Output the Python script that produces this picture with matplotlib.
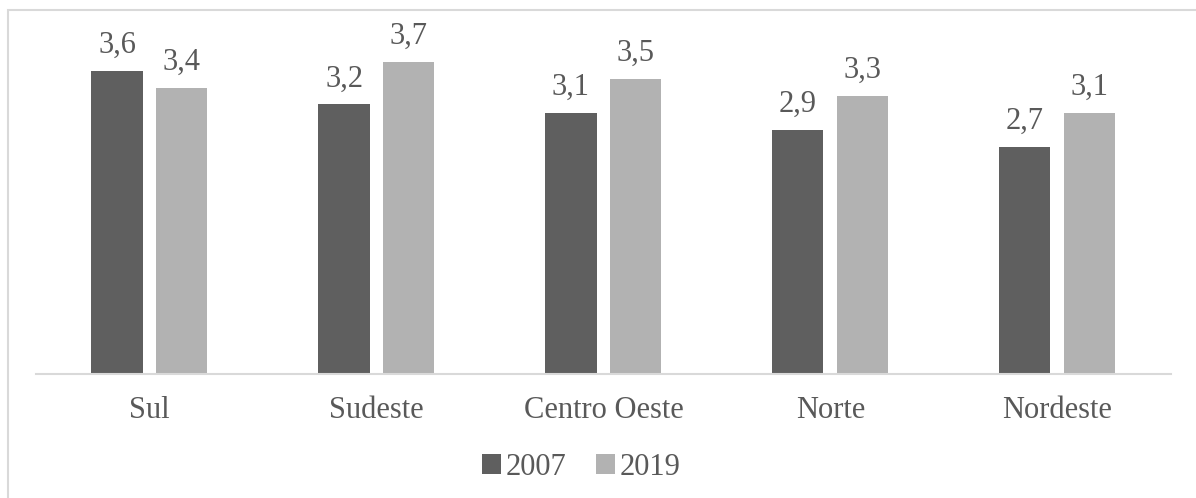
import numpy as np
import matplotlib.pyplot as plt
from matplotlib.patches import Rectangle

regions = ["Sul", "Sudeste", "Centro Oeste", "Norte", "Nordeste"]
vals_2007 = [3.6, 3.2, 3.1, 2.9, 2.7]
vals_2019 = [3.4, 3.7, 3.5, 3.3, 3.1]
series_names = ["2007", "2019"]

plt.rcParams['font.family'] = ['Liberation Serif', 'DejaVu Serif']
text_color = "#595959"

fig = plt.figure(figsize=(11.96, 4.98), dpi=100)
ax = fig.add_axes([0.0301, 0.249, 0.9489, 0.6767])

# light gray chart frame (only left and top edges fall inside the image)
fig.patches.append(Rectangle((8 / 1196, -0.1), 1.1, 488 / 498 + 0.1, transform=fig.transFigure,
                             fill=False, edgecolor="#d9d9d9", linewidth=1.5))

x = np.arange(len(regions))
w = 0.225
off = 0.143
b1 = ax.bar(x - off, vals_2007, w, color="#5f5f5f", label=series_names[0])
b2 = ax.bar(x + off, vals_2019, w, color="#b2b2b2", label=series_names[1])

for bars in (b1, b2):
    for rect in bars:
        h = rect.get_height()
        ax.text(rect.get_x() + rect.get_width() / 2, h + 0.13,
                f"{h:.1f}".replace(".", ","), ha="center", va="bottom",
                fontsize=22, color=text_color)

ax.set_xlim(-0.5, len(regions) - 0.5)
ax.set_ylim(0, 4.0)
ax.set_yticks([])
ax.set_xticks(x)
ax.set_xticklabels(regions, fontsize=22, color=text_color)
ax.tick_params(axis="x", length=0, pad=16)
for s in ["top", "right", "left"]:
    ax.spines[s].set_visible(False)
ax.spines["bottom"].set_color("#d9d9d9")
ax.spines["bottom"].set_linewidth(1.5)

leg = fig.legend(loc="center", bbox_to_anchor=(0.486, 0.062), ncol=2, frameon=False,
                 fontsize=22, handlelength=0.6, handleheight=0.6, handletextpad=0.15,
                 columnspacing=1.0)
for t in leg.get_texts():
    t.set_color(text_color)

fig.savefig("out.png", dpi=100)
